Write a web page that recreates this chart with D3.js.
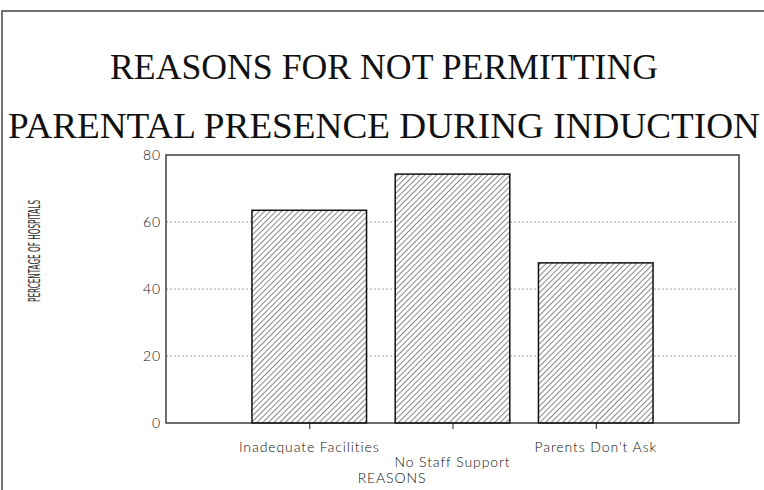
<!DOCTYPE html>
<html lang="en">
<head>
  <meta charset="UTF-8">
  <title>Reasons for not permitting parental presence</title>
  <script src="https://d3js.org/d3.v7.min.js"></script>
  <style>
    body { margin: 0; background: white; }
    svg { display: block; }
    .tick-label { font-family: Lato, "DejaVu Sans", sans-serif; font-weight: 300; font-size: 14px; letter-spacing: 0.9px; fill: #111; }
  </style>
</head>
<body>
  <script>
    const reasons = ["Inadequate Facilities", "No Staff Support", "Parents Don't Ask"];
    const percentages = [63.5, 74.3, 47.8];
    const yTicks = [0, 20, 40, 60, 80];
    const titleLines = ["REASONS FOR NOT PERMITTING", "PARENTAL PRESENCE DURING INDUCTION"];

    const width = 764, height = 490;
    const plot = { left: 166, right: 739, top: 155, bottom: 423 };

    const svg = d3.select("body").append("svg")
      .attr("width", width)
      .attr("height", height);

    // hatch pattern for the bars
    svg.append("defs").append("pattern")
      .attr("id", "hatch")
      .attr("patternUnits", "userSpaceOnUse")
      .attr("width", 4)
      .attr("height", 4)
      .attr("patternTransform", "rotate(45)")
      .append("line")
      .attr("x1", 0).attr("y1", 0)
      .attr("x2", 0).attr("y2", 4)
      .attr("stroke", "#222")
      .attr("stroke-width", 1.1);

    // page frame
    svg.append("path")
      .attr("d", `M2,${height} V11 H${width}`)
      .attr("fill", "none")
      .attr("stroke", "#444")
      .attr("stroke-width", 1.5);

    // title
    svg.selectAll(".title")
      .data(titleLines)
      .enter()
      .append("text")
      .attr("class", "title")
      .attr("x", width / 2 + 2)
      .attr("y", (d, i) => 79 + i * 59)
      .attr("text-anchor", "middle")
      .attr("textLength", (d, i) => i == 0 ? 548 : 752)
      .attr("lengthAdjust", "spacingAndGlyphs")
      .style("font-family", "'Liberation Serif', 'DejaVu Serif', serif")
      .style("font-size", "35px")
      .style("fill", "#111")
      .text(d => d);

    const x = d3.scalePoint()
      .domain(reasons)
      .range([plot.left, plot.right])
      .padding(1);

    const barWidth = x.step() * 0.8;

    const y = d3.scaleLinear()
      .domain([0, 80])
      .range([plot.bottom, plot.top]);

    // grid lines
    svg.append("g")
      .selectAll("line")
      .data(yTicks.filter(t => t > 0 && t < 80))
      .enter()
      .append("line")
      .attr("x1", plot.left)
      .attr("x2", plot.right)
      .attr("y1", d => y(d))
      .attr("y2", d => y(d))
      .attr("stroke", "#888")
      .attr("stroke-width", 0.8)
      .attr("stroke-dasharray", "2,2");

    // bars
    svg.append("g")
      .selectAll("rect")
      .data(reasons)
      .enter()
      .append("rect")
      .attr("x", d => x(d) - barWidth / 2)
      .attr("width", barWidth)
      .attr("y", (d, i) => y(percentages[i]))
      .attr("height", (d, i) => y(0) - y(percentages[i]))
      .attr("fill", "white");

    svg.append("g")
      .selectAll("rect")
      .data(reasons)
      .enter()
      .append("rect")
      .attr("x", d => x(d) - barWidth / 2)
      .attr("width", barWidth)
      .attr("y", (d, i) => y(percentages[i]))
      .attr("height", (d, i) => y(0) - y(percentages[i]))
      .attr("fill", "url(#hatch)")
      .attr("stroke", "#111")
      .attr("stroke-width", 1.5);

    // plot frame
    svg.append("rect")
      .attr("x", plot.left)
      .attr("y", plot.top)
      .attr("width", plot.right - plot.left)
      .attr("height", plot.bottom - plot.top)
      .attr("fill", "none")
      .attr("stroke", "#222")
      .attr("stroke-width", 1.3);

    // y axis
    const yAxis = d3.axisLeft(y).tickValues(yTicks).tickSize(0).tickPadding(5);
    const yG = svg.append("g")
      .attr("transform", `translate(${plot.left},0)`)
      .call(yAxis);
    yG.select(".domain").remove();
    yG.selectAll("text").attr("class", "tick-label").attr("fill", null);

    // x axis, staggered labels
    const xAxis = d3.axisBottom(x).tickSize(6).tickSizeOuter(0).tickPadding(0).tickFormat("");
    const xG = svg.append("g")
      .attr("transform", `translate(0,${plot.bottom})`)
      .call(xAxis);
    xG.select(".domain").remove();
    xG.selectAll(".tick line").attr("stroke", "#222");

    svg.append("g")
      .selectAll("text")
      .data(reasons)
      .enter()
      .append("text")
      .attr("class", "tick-label")
      .attr("x", d => x(d))
      .attr("y", (d, i) => plot.bottom + (i % 2 == 0 ? 29 : 44))
      .attr("text-anchor", "middle")
      .text(d => d);

    // axis titles
    svg.append("text")
      .attr("class", "tick-label")
      .attr("x", 392)
      .attr("y", plot.bottom + 60)
      .attr("text-anchor", "middle")
      .text("REASONS");

    svg.append("text")
      .attr("transform", "translate(40,251) rotate(-90)")
      .attr("text-anchor", "middle")
      .attr("textLength", 102)
      .attr("lengthAdjust", "spacingAndGlyphs")
      .style("font-family", "'DejaVu Sans Condensed', 'DejaVu Sans', sans-serif")
      .style("font-weight", 400)
      .style("font-size", "16px")
      .style("fill", "#333")
      .text("PERCENTAGE OF HOSPITALS");
  </script>
</body>
</html>
